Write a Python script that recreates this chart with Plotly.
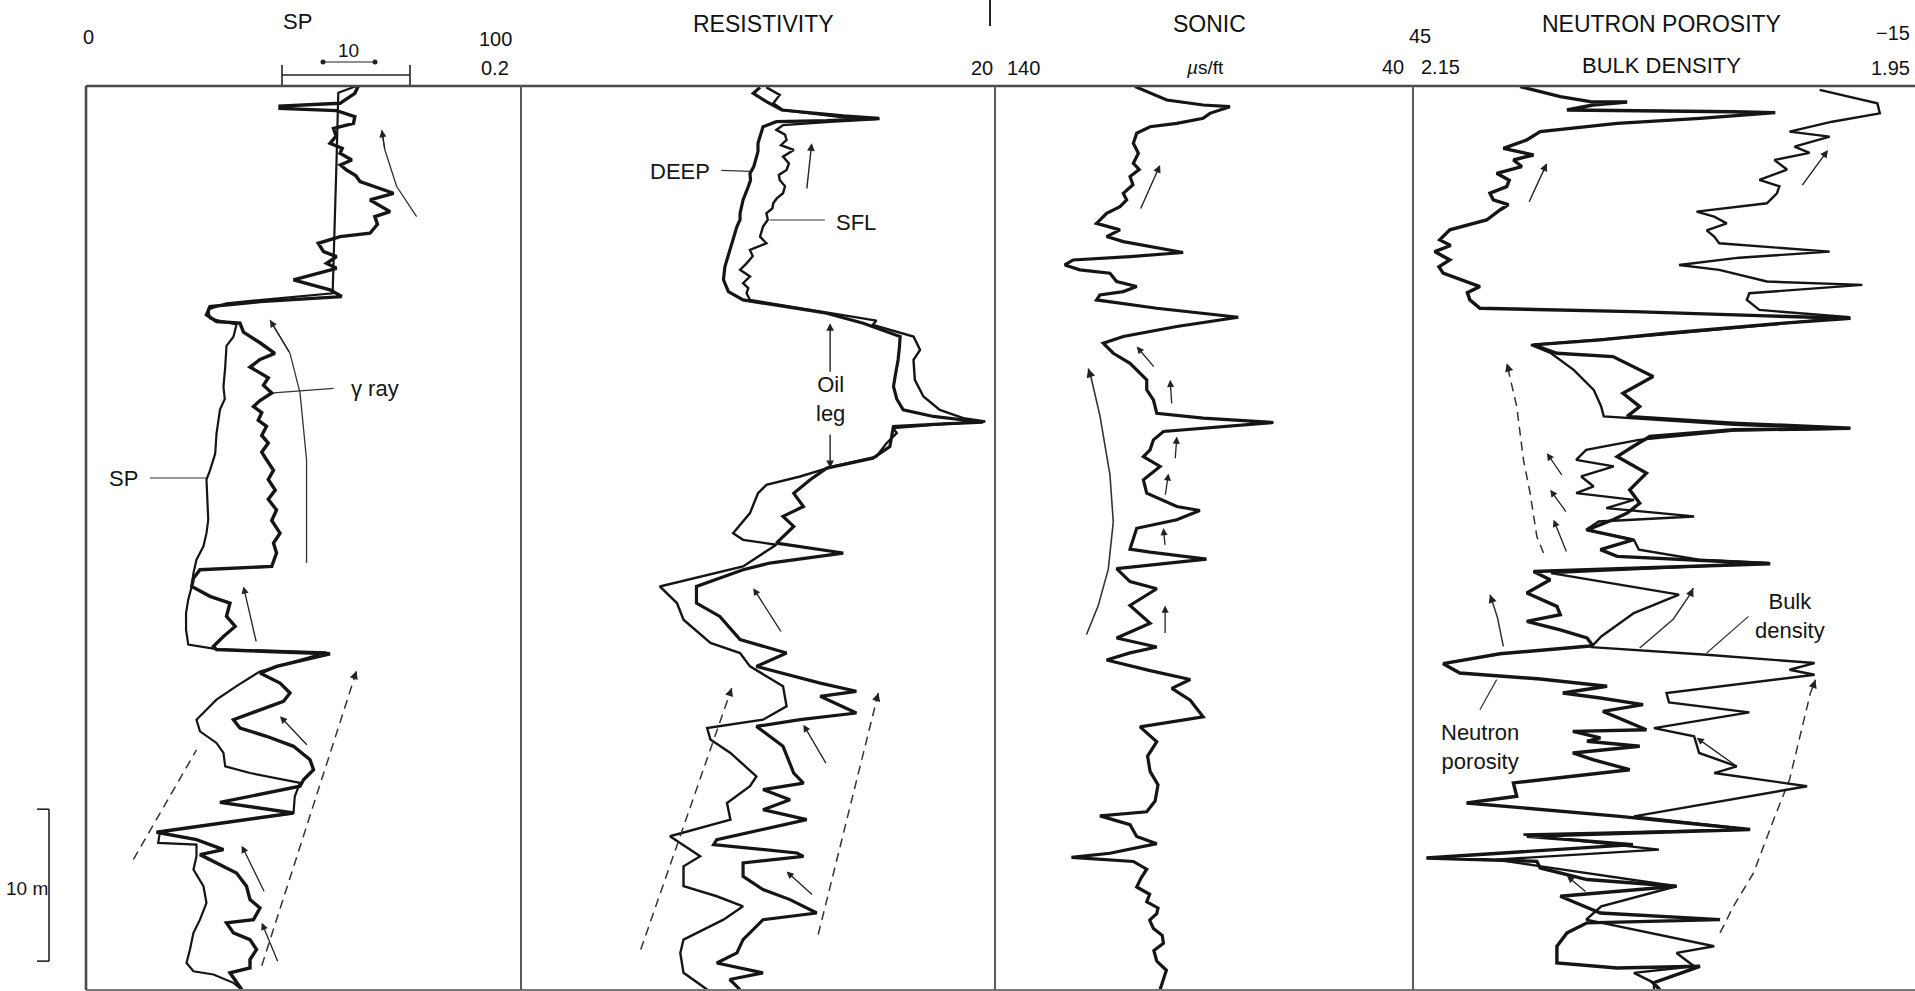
import numpy as np
import plotly.graph_objects as go

# ---------------- DATA (depth in m below top of section, log reading) ----------------
# Track 1 : gamma ray (thick) and SP (thin), scale 0 - 100
gr = [(0.0,62.6),(0.48,61.8),(1.14,58.4),(1.32,44.6),(1.47,44.6),(1.62,57.6),(2.02,61.8),(2.46,61.5),(2.79,56.9),(3.3,57.5),
      (3.77,56.1),(4.1,58.9),(4.43,58.4),(4.87,61.1),(5.2,58.5),(5.53,59.9),(5.9,62.0),(6.29,63.0),(7.06,70.7),(7.5,65.3),
      (8.27,69.9),(8.6,66.4),(9.1,67.0),(9.69,65.3),(9.91,58.4),(10.35,53.4),(10.9,54.6),(11.23,57.6),(11.67,55.3),(12.0,57.6),
      (12.76,47.7),(13.42,56.1),(13.86,58.8),(14.19,40.0),(14.52,28.5),(15.07,27.7),(15.5,30.0),(15.61,35.4),(16.2,36.2),(16.6,38.5),
      (16.9,40.0),(17.6,43.4),(18.0,40.0),(18.5,37.7),(18.9,40.0),(19.2,41.9),(19.7,40.8),(20.2,42.7),(20.7,40.0),(21.1,38.5),
      (21.5,40.4),(22.0,39.6),(22.4,41.5),(23.0,40.4),(23.5,41.9),(24.1,40.4),(24.6,41.5),(25.3,43.1),(25.9,41.9),(26.6,43.5),
      (27.2,41.9),(27.9,43.8),(28.6,42.7),(29.43,44.6),(30.08,43.1),(30.74,43.8),(31.62,42.7),(31.84,26.2),(32.39,24.7),(32.94,24.3),
      (33.59,28.5),(34.03,33.1),(34.91,32.3),(35.57,34.3),(36.23,31.6),(36.88,29.3),(37.1,30.0),(37.37,56.1),(38.2,43.8),(38.64,40.0),
      (39.3,44.6),(39.95,46.9),(40.5,45.4),(41.05,40.0),(41.71,33.9),(42.26,35.4),(42.8,41.5),(43.46,47.7),(44.34,51.5),(45.0,52.3),
      (45.66,50.0),(46.09,49.2),(47.15,30.8),(47.85,47.7),(49.12,16.2),(49.6,25.4),(50.26,31.6),(50.59,26.2),(51.14,30.0),(51.8,34.6),
      (52.67,36.9),(53.55,37.7),(54.1,40.0),(54.87,38.5),(55.08,32.3),(55.74,33.9),(56.18,37.7),(56.84,39.2),(57.5,37.7),(58.05,37.7),
      (58.37,33.1),(59.47,35.8)]
sp = [(0.0,62.2),(0.45,58.0),(4.87,57.6),(9.25,57.2),(13.64,56.7),(14.3,32.3),(14.7,28.1),(15.3,28.5),(15.7,34.6),(16.5,33.9),
      (17.1,32.3),(18.5,32.0),(19.8,31.6),(20.6,31.9),(21.3,30.8),(22.9,30.0),(24.2,29.7),(25.3,28.5),(25.9,27.7),(27.9,28.0),
      (28.55,28.1),(29.43,27.7),(30.3,27.0),(31.18,25.4),(32.06,24.7),(32.94,24.3),(33.81,23.5),(34.69,23.0),(35.79,23.0),(36.77,23.5),
      (37.06,30.0),(37.28,55.3),(38.53,40.0),(39.5,34.6),(40.39,30.0),(41.71,25.4),(42.48,26.2),(43.24,30.0),(43.9,31.6),(44.78,32.0),
      (45.22,37.7),(45.87,49.2),(46.75,48.0),(47.85,47.7),(49.08,17.0),(49.82,16.6),(49.93,25.4),(50.7,25.4),(51.58,24.7),(52.67,27.0),
      (53.77,27.7),(54.87,26.2),(55.74,24.7),(56.84,23.9),(57.72,23.1),(58.27,24.7),(58.48,29.3),(59.03,33.9),(59.47,35.8)]

# Track 2 : resistivity, ohm-m, log scale 0.2 - 20
deep = [(0.09,2.04),(0.48,1.91),(1.03,2.17),(1.58,2.52),(1.97,4.58),(2.13,6.5),(2.28,3.9),(2.35,2.39),(2.68,2.1),(3.2,2.05),
        (3.77,2.0),(4.3,2.0),(4.87,1.95),(5.3,1.92),(5.75,1.85),(6.2,1.86),(6.62,1.82),(7.05,1.78),(7.5,1.73),(8.38,1.68),
        (8.8,1.68),(9.25,1.63),(10.13,1.57),(11.01,1.5),(11.89,1.45),(12.76,1.43),(13.53,1.5),(14.08,1.73),(14.41,2.39),(14.96,3.9),
        (15.61,5.56),(16.49,7.96),(17.2,7.9),(18.03,7.8),(19.0,7.6),(19.78,7.46),(20.6,7.7),(21.32,8.2),(21.75,11.0),(22.13,17.8),
        (22.24,12.1),(22.41,7.46),(23.73,7.2),(24.5,6.1),(25.15,3.9),(25.92,3.32),(26.8,2.83),(27.68,3.11),(28.33,2.55),(28.99,2.83),
        (30.09,2.39),(30.74,4.58),(31.4,2.24),(31.84,1.73),(32.94,1.1),(34.03,1.1),(34.91,1.38),(36.44,1.68),(37.32,2.64),(38.2,1.97),
        (39.3,3.66),(39.84,5.2),(40.17,3.66),(41.27,5.2),(41.71,3.01),(42.15,1.97),(43.46,2.55),(45.22,2.83),(45.88,3.11),(46.31,2.1),
        (46.97,2.73),(47.63,2.1),(48.29,3.21),(49.6,1.34),(49.93,1.3),(50.48,2.92),(50.7,3.11),(51.14,1.73),(52.02,1.73),(52.89,2.1),
        (53.55,2.73),(54.43,3.54),(54.87,2.1),(56.18,1.73),(57.06,1.63),(57.72,1.34),(58.37,2.1),(58.81,1.52),(59.47,1.68)]
sfl = [(0.09,2.17),(0.59,2.47),(1.14,2.32),(1.58,2.55),(2.06,4.58),(2.17,6.5),(2.35,4.03),(2.57,2.55),(2.89,2.39),(3.2,2.6),
       (3.55,2.64),(3.9,2.5),(4.21,2.83),(4.65,2.55),(5.1,2.7),(5.53,2.64),(5.85,2.45),(6.18,2.47),(6.6,2.6),(7.06,2.55),
       (7.4,2.4),(7.72,2.32),(8.05,2.3),(8.38,2.17),(8.8,2.2),(9.25,2.1),(9.91,2.04),(10.35,2.17),(10.79,1.85),(11.2,1.9),
       (11.67,1.79),(12.1,1.68),(12.54,1.85),(12.98,1.73),(13.3,1.82),(13.64,1.79),(14.08,1.85),(14.36,2.39),(14.89,3.9),(15.44,6.32),
       (15.72,6.1),(16.49,9.06),(17.37,9.66),(18.03,9.06),(19.34,9.18),(20.44,9.98),(21.32,11.7),(21.86,14.7),(22.08,18.2),(22.3,11.0),
       (22.52,7.46),(22.85,7.7),(23.51,6.97),(24.39,6.32),(25.04,4.16),(25.7,3.01),(26.25,2.17),(26.8,2.0),(28.11,1.85),(28.8,1.7),
       (29.43,1.57),(29.87,1.73),(30.19,2.39),(31.62,1.73),(32.94,0.77),(34.03,0.91),(35.13,0.97),(36.66,1.26),(37.32,1.68),(38.2,1.85),
       (39.5,2.55),(40.83,2.64),(41.71,2.1),(42.26,1.22),(43.02,1.26),(43.9,1.53),(45.44,1.97),(46.09,1.85),(47.19,1.48),(48.29,1.53),
       (49.38,0.85),(50.7,1.14),(51.36,0.97),(52.67,0.97),(53.33,1.34),(53.99,1.73),(54.87,1.43),(56.18,0.97),(57.06,0.94),(58.37,0.97),
       (59.47,1.22)]

# Track 3 : sonic, us/ft, 140 - 40
sonic = [(0.04,106.5),(0.37,103.7),(0.92,98.9),(1.25,90.2),(1.36,83.8),(1.8,88.6),(2.13,90.2),(2.46,96.5),(2.68,102.9),(3.11,106.1),
         (3.77,106.9),(4.43,105.7),(5.09,106.9),(5.5,105.5),(5.96,107.7),(6.5,107.0),(7.06,109.3),(7.5,108.5),(7.94,110.1),(8.38,113.3),
         (9.04,115.7),(9.47,110.1),(9.91,113.3),(10.24,109.3),(10.96,95.0),(11.23,107.7),(11.45,121.3),(11.78,123.3),(12.1,119.7),(12.32,112.5),
         (12.87,110.9),(13.2,106.1),(13.53,109.3),(13.75,114.9),(14.08,115.7),(14.63,101.3),(15.22,81.8),(15.83,96.5),(16.49,109.3),(16.93,114.1),
         (17.59,111.7),(18.25,107.7),(18.68,106.1),(19.34,103.7),(20.0,103.7),(20.66,102.1),(21.54,101.3),(21.86,90.2),(22.15,73.4),(22.41,85.4),
         (22.74,99.7),(23.29,102.1),(23.95,102.9),(24.39,104.5),(25.04,100.5),(25.92,104.5),(26.8,103.7),(27.68,96.5),(27.94,91.0),(28.55,96.5),
         (29.11,106.1),(30.48,107.7),(30.68,102.9),(31.14,89.4),(31.77,110.9),(32.62,107.7),(33.09,101.3),(34.19,107.7),(35.36,102.9),(36.33,110.9),
         (36.92,101.3),(37.31,107.7),(37.78,113.3),(38.48,102.9),(39.06,93.3),(39.65,97.7),(40.43,93.3),(41.52,90.2),(42.18,105.3),(43.16,101.3),
         (44.1,103.5),(45.11,102.9),(46.0,101.0),(47.06,101.7),(47.77,103.7),(48.04,114.9),(48.62,107.7),(49.4,106.1),(49.87,101.3),(50.5,112.5),
         (50.77,121.7),(51.04,106.9),(51.55,103.7),(52.1,105.0),(52.72,106.1),(53.2,103.0),(53.7,103.7),(54.1,101.0),(54.47,101.3),(54.9,103.0),
         (55.45,102.1),(55.9,100.0),(56.42,99.7),(56.9,102.0),(57.6,101.3),(58.2,99.0),(58.77,99.7),(59.47,100.5)]

# Track 4 : neutron porosity (45 - -15) and bulk density (2.15 - 1.95)
nphi = [(0.04,32.2),(0.70,27.4),(1.03,23.8),(1.05,19.4),(1.25,23.5),(1.58,26.6),(1.69,6.7),(1.75,1.7),(2.13,10.7),(2.46,20.6),
        (3.0,29.8),(3.55,31.4),(4.1,34.2),(4.54,30.6),(4.87,33.0),(5.3,32.0),(5.75,35.0),(6.2,33.5),(6.62,33.8),(7.05,35.8),
        (7.5,35.4),(7.8,33.6),(8.16,34.6),(8.82,36.2),(9.47,40.6),(10.13,41.8),(10.5,40.5),(10.9,42.4),(11.45,40.6),(11.9,41.9),
        (12.32,41.4),(13.2,37.0),(13.6,38.5),(14.08,38.2),(14.63,37.0),(14.85,18.7),(15.13,2.7),(15.29,-7.3),(15.61,0.7),(16.27,14.7),
        (16.71,22.6),(17.04,30.6),(17.59,27.8),(17.81,21.1),(19.12,16.3),(20.22,19.9),(21.1,17.9),(21.75,19.4),(22.19,6.7),(22.52,-7.3),
        (22.63,6.7),(23.07,16.7),(23.73,18.7),(24.39,20.6),(25.48,17.1),(26.58,19.1),(27.46,17.9),(28.11,19.4),(28.55,21.1),(29.21,24.2),
        (29.87,18.7),(30.52,22.6),(30.96,20.6),(31.44,2.3),(31.95,30.6),(32.5,28.6),(33.37,31.4),(34.25,27.8),(34.8,27.4),(35.24,31.4),
        (35.79,27.4),(36.33,24.2),(36.84,23.5),(37.37,34.6),(38.02,41.4),(38.64,39.4),(39.03,29.8),(39.51,21.8),(39.95,27.1),(40.28,22.6),
        (40.72,17.5),(41.16,22.3),(42.37,17.1),(42.48,25.9),(42.91,22.6),(43.13,24.2),(43.46,17.9),(43.9,25.9),(44.34,23.5),(45.0,19.1),
        (45.87,33.0),(46.75,32.6),(47.19,38.6),(48.07,20.3),(48.94,4.7),(49.38,31.4),(49.93,18.7),(50.81,43.4),(51.03,30.2),(51.47,29.8),
        (52.23,24.2),(52.67,13.5),(53.33,27.4),(54.43,22.6),(54.87,8.3),(55.08,24.2),(55.74,26.6),(56.62,27.8),(57.72,27.8),(58.05,20.6),
        (57.94,10.7),(59.03,16.3),(59.47,15.5)]
rhob = [(0.26,1.988),(0.70,1.976),(1.14,1.965),(1.8,1.964),(2.35,1.983),(3.0,2.000),(3.33,1.984),(3.99,1.998),(4.4,1.992),(4.87,2.006),
        (5.5,2.001),(6.18,2.012),(6.6,2.004),(7.06,2.005),(7.72,2.009),(8.27,2.037),(8.6,2.030),(9.04,2.025),(9.5,2.033),(9.91,2.030),
        (10.35,2.028),(10.9,1.984),(11.3,2.020),(11.78,2.044),(12.1,2.028),(12.87,2.009),(13.09,1.971),(13.64,2.016),(14.08,2.017),(14.74,2.012),
        (15.22,1.976),(15.83,2.016),(16.38,2.052),(17.04,2.103),(17.59,2.095),(18.68,2.086),(20.0,2.078),(21.1,2.075),(21.75,2.074),(22.3,2.022),
        (22.57,1.976),(22.68,2.022),(23.29,2.060),(23.95,2.081),(24.61,2.085),(25.04,2.070),(25.7,2.083),(26.36,2.078),(26.8,2.085),(27.24,2.062),
        (27.78,2.073),(28.33,2.038),(28.66,2.076),(29.21,2.081),(29.87,2.062),(30.52,2.060),(31.18,2.036),(31.4,2.008),(32.06,2.095),(33.48,2.044),
        (34.69,2.062),(36.23,2.075),(36.93,2.079),(37.43,2.033),(37.98,1.990),(38.42,2.000),(38.75,1.990),(39.95,2.049),(40.57,2.048),(41.23,2.016),
        (42.26,2.054),(42.8,2.038),(43.9,2.036),(44.78,2.021),(45.22,2.030),(46.09,1.993),(48.07,2.062),(48.94,2.016),(49.27,2.106),(50.26,2.052),
        (50.92,2.117),(51.36,2.099),(52.67,2.045),(53.99,2.075),(54.87,2.081),(56.62,2.030),(57.06,2.045),(57.94,2.038),(58.37,2.062),(59.03,2.054),
        (59.47,2.054)]

# scale ranges of the tracks
sp_range = [0, 100]
res_range = [0.2, 20]
sonic_range = [140, 40]
nphi_range = [45, -15]
rhob_range = [2.15, 1.95]
depth_range = [59.5, 0]

# ---------------- FIGURE ----------------
W, H = 1915, 991
ML, MT, MB = 86, 86, 1
PW, PH = W - ML, H - MT - MB
def px(xf):  # paper x from pixel
    return (xf - ML) / PW
def py(yf):  # paper y from pixel
    return (H - MB - yf) / PH

doms = [(0, px(521)), (px(521), px(995)), (px(995), px(1413)), (px(1413), 1.0)]

FONT = "Liberation Sans, Arial, Helvetica, sans-serif"
INK = "#151515"
fig = go.Figure()

def add_curve(data, xa, width, name):
    d, v = zip(*data)
    fig.add_trace(go.Scatter(x=list(v), y=list(d), xaxis=xa, yaxis="y", mode="lines",
                             line=dict(color=INK, width=width), name=name,
                             hoverinfo="skip", showlegend=False))

add_curve(sp, "x", 2.2, "SP")
add_curve(gr, "x", 3.4, "Gamma ray")
add_curve(sfl, "x2", 2.4, "SFL")
add_curve(deep, "x2", 3.2, "Deep")
add_curve(sonic, "x3", 3.2, "Sonic")
add_curve(rhob, "x5", 2.4, "Bulk density")
add_curve(nphi, "x4", 3.4, "Neutron porosity")

annotations = []
def axv(xa, v):
    return float(np.log10(v)) if xa == "x2" else v

def arrow(xa, tail, head, width=1.4):
    annotations.append(dict(xref=xa, yref="y", axref=xa, ayref="y",
                            x=axv(xa, head[1]), y=head[0], ax=axv(xa, tail[1]), ay=tail[0],
                            showarrow=True, arrowhead=2, arrowsize=1.1, arrowwidth=width,
                            arrowcolor="#222", text=""))

def guide(xa, pts, dash=None, head=True, width=1.5):
    d, v = zip(*pts)
    fig.add_trace(go.Scatter(x=list(v), y=list(d), xaxis=xa, yaxis="y", mode="lines",
                             line=dict(color="#333", width=width, dash=dash),
                             hoverinfo="skip", showlegend=False))
    if head:
        arrow(xa, pts[-2], pts[-1], width)

def label(xa, d, v, text, size=22, align="center"):
    annotations.append(dict(xref=xa, yref="y", x=axv(xa, v), y=d, text=text, showarrow=False,
                            font=dict(family=FONT, size=size, color=INK), align=align))

DASH = "9px,6px"
# track 1 annotations
guide("x", [(8.6, 76.0), (6.6, 71.4), (4.2, 68.7), (2.9, 68.0)], width=1.3)
guide("x", [(31.4, 50.7), (24.6, 50.7), (20.2, 49.2), (17.6, 46.9), (15.4, 42.3)], width=1.3)
arrow("x", (36.66, 39.2), (32.94, 36.2), 1.3)
arrow("x", (43.46, 51.1), (41.49, 44.6), 1.3)
arrow("x", (53.1, 41.1), (50.0, 35.8), 1.3)
arrow("x", (57.7, 44.2), (55.08, 40.4), 1.3)
guide("x", [(50.9, 10.9), (43.7, 25.4)], dash=DASH, head=False)
guide("x", [(57.9, 40.4), (38.9, 61.7), (38.5, 62.2)], dash=DASH)
guide("x", [(20.2, 43.1), (19.9, 56.9)], head=False, width=1.2)
label("x", 19.9, 66.5, "γ ray")
guide("x", [(25.8, 14.7), (25.8, 27.7)], head=False, width=1.2)
label("x", 25.85, 8.6, "SP")

# track 2 annotations
label("x2", 5.6, 0.936, "DEEP")
guide("x2", [(5.55, 1.40), (5.62, 1.85)], head=False, width=1.2)
label("x2", 9.0, 5.2, "SFL")
guide("x2", [(8.82, 2.24), (8.82, 3.83)], head=False, width=1.2)
arrow("x2", (6.84, 3.21), (3.77, 3.37))
arrow("x2", (18.9, 4.03), (15.61, 4.03))
label("x2", 20.6, 4.03, "Oil<br>leg")
arrow("x2", (22.85, 4.03), (25.15, 4.03))
arrow("x2", (36.0, 2.52), (33.05, 1.91), 1.3)
arrow("x2", (44.67, 3.9), (42.04, 3.11), 1.3)
arrow("x2", (53.3, 3.43), (51.7, 2.64), 1.3)
guide("x2", [(56.84, 0.64), (40.0, 1.52), (39.62, 1.55)], dash=DASH)
guide("x2", [(55.85, 3.59), (40.3, 6.35), (39.95, 6.44)], dash=DASH)

# track 3 annotations
arrow("x3", (8.16, 105.3), (5.2, 100.5))
guide("x3", [(36.1, 118.1), (34.2, 115.3), (31.8, 112.9), (28.7, 111.7), (25.6, 112.5),
             (21.7, 114.9), (19.2, 117.0), (18.6, 117.7)], width=1.6)
arrow("x3", (18.57, 101.7), (17.15, 106.1), 1.3)
arrow("x3", (20.99, 97.7), (19.34, 98.1), 1.3)
arrow("x3", (24.6, 96.9), (23.07, 96.5), 1.3)
arrow("x3", (27.0, 99.3), (25.5, 98.5), 1.3)
arrow("x3", (30.3, 99.3), (29.1, 99.7), 1.3)
arrow("x3", (36.1, 99.3), (34.2, 99.3), 1.3)

# track 4 annotations
arrow("x4", (7.72, 31.2), (5.09, 29.0))
arrow("x4", (6.62, -1.4), (4.21, -4.6))
guide("x4", [(30.74, 29.4), (29.65, 30.2), (26.8, 31.0), (24.6, 31.8), (21.1, 32.6), (18.6, 33.6), (18.25, 33.8)], dash=DASH)
arrow("x4", (25.7, 27.1), (24.17, 29.0), 1.3)
arrow("x4", (28.11, 26.6), (26.58, 28.6), 1.3)
arrow("x4", (30.74, 26.6), (28.55, 28.2), 1.3)
guide("x4", [(36.88, 34.2), (35.0, 34.9), (33.8, 35.6), (33.48, 35.8)], width=1.5)
guide("x4", [(36.99, 17.9), (35.1, 13.9), (33.4, 11.8), (33.05, 11.5)], width=1.5)
label("x4", 34.9, 0.0, "Bulk<br>density")
guide("x4", [(37.32, 9.9), (34.91, 4.9)], head=False, width=1.2)
label("x4", 43.5, 37.0, "Neutron<br>porosity")
guide("x4", [(41.05, 37.0), (39.07, 35.0)], head=False, width=1.2)
arrow("x4", (53.1, 24.2), (52.0, 26.6), 1.3)
arrow("x4", (44.78, 6.3), (42.9, 11.1), 1.3)
guide("x4", [(55.74, 8.3), (53.99, 6.7), (51.8, 4.3), (48.29, 1.9), (45.66, 0.0), (42.58, -1.3),
             (39.95, -2.5), (39.4, -2.9), (39.08, -3.1)], dash=DASH)

# header texts (paper coordinates)
def head(xf, yf, text, size=20, anchor="center"):
    annotations.append(dict(xref="paper", yref="paper", x=px(xf), y=py(yf), text=text,
                            showarrow=False, font=dict(family=FONT, size=size, color="#111"),
                            xanchor=anchor, yanchor="middle"))
head(88, 37, "0")
head(297, 22, "SP", 22)
head(348, 50, "10", 19)
head(495, 39, "100")
head(495, 68, "0.2")
head(763, 24, "RESISTIVITY", 23)
head(982, 68, "20")
head(1023, 68, "140")
head(1209, 24, "SONIC", 23)
head(1205, 68, "<i>µ</i>s/ft", 19)
head(1420, 36, "45")
head(1393, 67, "40")
head(1440, 67, "2.15")
head(1661, 24, "NEUTRON POROSITY", 23)
head(1661, 65, "BULK DENSITY", 22)
head(1912, 33, "−15", 20, "right")
head(1912, 68, "1.95", 20, "right")
annotations.append(dict(xref="paper", yref="y", x=px(27), y=52.8, text="10 m", showarrow=False,
                        font=dict(family=FONT, size=19, color=INK), xanchor="center"))

# frame, track dividers, scale bars
shapes = []
def pline(x0, y0, x1, y1, w=2.0, c="#555", yref="paper"):
    shapes.append(dict(type="line", xref="paper", yref=yref, x0=x0, y0=y0, x1=x1, y1=y1,
                       line=dict(color=c, width=w)))
pline(0, 1, 1, 1, 2.6, "#4a4a4a")
pline(0, 0, 1, 0, 2.0, "#777")
pline(0, 0, 0, 1, 2.6, "#4a4a4a")
for xd in (px(521), px(995), px(1413)):
    pline(xd, 0, xd, 1, 2.0, "#5a5a5a")
pline(px(990), py(26), px(990), py(0), 2.0, "#222")
# SP scale bar in header
pline(px(282), py(75), px(410), py(75), 1.6, "#222")
pline(px(282), py(65), px(282), py(85), 1.6, "#222")
pline(px(410), py(65), px(410), py(85), 1.6, "#222")
pline(px(323), py(62), px(375), py(62), 1.2, "#222")
for xc in (323, 375):
    shapes.append(dict(type="circle", xref="paper", yref="paper", x0=px(xc - 2.5), x1=px(xc + 2.5),
                       y0=py(62 + 2.5), y1=py(62 - 2.5), fillcolor="#222", line=dict(width=0)))
# 10 m depth scale bar
pline(px(49), 47.6, px(49), 57.6, 1.6, "#222", "y")
pline(px(37), 47.6, px(49), 47.6, 1.6, "#222", "y")
pline(px(37), 57.6, px(49), 57.6, 1.6, "#222", "y")

hidden = dict(visible=False, showgrid=False, zeroline=False)
fig.update_layout(
    width=W, height=H, autosize=False,
    margin=dict(l=ML, r=0, t=MT, b=MB, pad=0),
    paper_bgcolor="white", plot_bgcolor="white",
    xaxis=dict(domain=list(doms[0]), range=sp_range, anchor="y", **hidden),
    xaxis2=dict(domain=list(doms[1]), type="log", range=[np.log10(res_range[0]), np.log10(res_range[1])], anchor="y", **hidden),
    xaxis3=dict(domain=list(doms[2]), range=sonic_range, anchor="y", **hidden),
    xaxis4=dict(domain=list(doms[3]), range=nphi_range, anchor="y", **hidden),
    xaxis5=dict(domain=list(doms[3]), range=rhob_range, anchor="y", overlaying="x4", **hidden),
    yaxis=dict(domain=[0, 1], range=depth_range, anchor="x", **hidden),
    annotations=annotations, shapes=shapes, showlegend=False,
)
fig.write_html("out.html", config={"displayModeBar": False},
               post_script="document.body.style.margin='0px';document.body.style.overflow='hidden';")
